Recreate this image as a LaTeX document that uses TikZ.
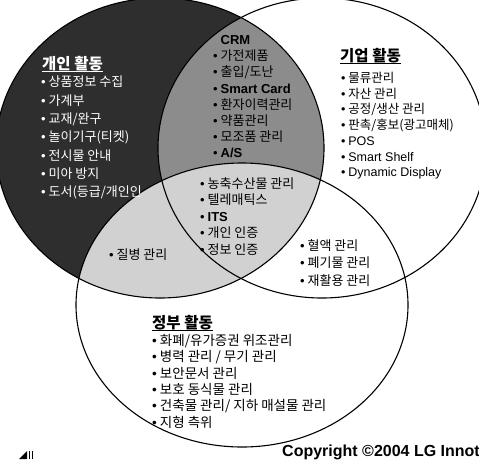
\documentclass[tikz,border=0pt]{standalone}
\usepackage{fontspec}
\setmainfont{Noto Sans CJK KR}
\newfontfamily\en{Liberation Sans}
\newcommand{\bul}{{\en •}\ }
\newcommand{\titleline}[1]{\setbox0\hbox{#1}\rlap{\rule[-2.6pt]{\wd0}{1.3pt}}\box0}
\tikzstyle{venn} = [line width=1.1pt, draw=black]
\tikzstyle{title} = [anchor=north west, inner sep=0pt, font=\fontsize{15.5}{18}\selectfont\bfseries]
\tikzstyle{list} = [anchor=north west, inner sep=0pt, align=left]

\begin{document}
\begin{tikzpicture}[x=1pt, y=-1pt]
\useasboundingbox (0,0) rectangle (479,459);
\clip (0,0) rectangle (479,459);
%영역 채우기
\fill[black!82] (160,148) ellipse [x radius=164pt, y radius=150pt];
\begin{scope}
\clip (160,148) ellipse [x radius=164pt, y radius=150pt];
\fill[black!45] (322,148) ellipse [x radius=164pt, y radius=150pt];
\fill[black!18] (242,305) ellipse [x radius=166pt, y radius=142pt];
\end{scope}
%원 윤곽선
\draw[venn] (160,148) ellipse [x radius=164pt, y radius=150pt];
\draw[venn] (322,148) ellipse [x radius=164pt, y radius=150pt];
\draw[venn] (242,305) ellipse [x radius=166pt, y radius=142pt];
%개인 활동
\node[title, text=white] (pertitle) at (42,56) {\titleline{개인 활동}};
\node[list, text=white, font=\fontsize{13}{18.3}\selectfont] (per) at (41,76) {\bul 상품정보 수집\\ \bul 가계부\\ \bul 교재/완구\\ \bul 놀이기구(티켓)\\ \bul 전시물 안내\\ \bul 미아 방지\\ \bul 도서(등급/개인인};
%개인+기업
\node[list, font=\fontsize{13}{16.1}\selectfont] (perbiz) at (213,35.5) {\hphantom{\bul}{\en\bfseries CRM}\\ \bul 가전제품\\ \bul 출입/도난\\ \bul {\en\bfseries Smart Card}\\ \bul 환자이력관리\\ \bul 약품관리\\ \bul 모조품 관리\\ \bul {\en\bfseries A/S}};
%기업 활동
\node[title] (biztitle) at (340,48) {\titleline{기업 활동}};
\node[list, font=\fontsize{12.5}{15.7}\selectfont] (biz) at (341,72) {\bul 물류관리\\ \bul 자산 관리\\ \bul 공정/생산 관리\\ \bul 판촉/홍보(광고매체)\\ \bul {\en POS}\\ \bul {\en Smart Shelf}\\ \bul {\en Dynamic Display}};
%공통
\node[list, font=\fontsize{13}{16.5}\selectfont] (core) at (200,177) {\bul 농축수산물 관리\\ \bul 텔레매틱스\\ \bul {\en\bfseries ITS}\\ \bul 개인 인증\\ \bul 정보 인증};
\node[list, font=\fontsize{13}{16.5}\selectfont] (pergov) at (109,249) {\bul 질병 관리};
\node[list, font=\fontsize{13}{17.5}\selectfont] (bizgov) at (300,239) {\bul 혈액 관리\\ \bul 폐기물 관리\\ \bul 재활용 관리};
%정부 활동
\node[title] (govtitle) at (152,315) {\titleline{정부 활동}};
\node[list, font=\fontsize{13.5}{16.4}\selectfont] (gov) at (152,334) {\bul 화폐/유가증권 위조관리\\ \bul 병력 관리 / 무기 관리\\ \bul 보안문서 관리\\ \bul 보호 동식물 관리\\ \bul 건축물 관리/ 지하 매설물 관리\\ \bul 지형 측위};
\node[anchor=base east, inner sep=0pt, font=\en\fontsize{16}{18}\selectfont\bfseries] (copy) at (480,456) {Copyright ©2004 LG Innot};
%로고 조각
\fill (19,459) -- (27,451) -- (27,459) -- cycle;
\fill (28.5,451) rectangle (30,459);
\fill (31.5,451) rectangle (33,459);
\end{tikzpicture}
\end{document}
